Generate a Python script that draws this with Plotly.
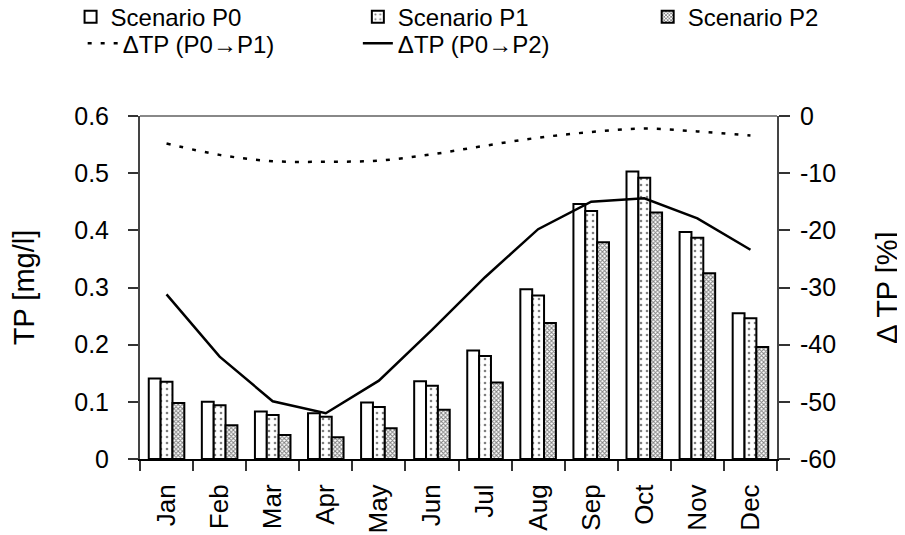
import plotly.graph_objects as go

months = ['Jan', 'Feb', 'Mar', 'Apr', 'May', 'Jun', 'Jul', 'Aug', 'Sep', 'Oct', 'Nov', 'Dec']
tp_p0 = [0.141, 0.100, 0.083, 0.080, 0.099, 0.136, 0.190, 0.297, 0.446, 0.503, 0.397, 0.255]
tp_p1 = [0.135, 0.094, 0.077, 0.074, 0.091, 0.128, 0.180, 0.286, 0.434, 0.492, 0.387, 0.246]
tp_p2 = [0.098, 0.059, 0.042, 0.038, 0.054, 0.086, 0.134, 0.238, 0.379, 0.431, 0.325, 0.196]
dtp_p1 = [-4.8, -6.8, -7.9, -8.0, -7.8, -6.7, -5.2, -3.8, -2.8, -2.2, -2.7, -3.4]
dtp_p2 = [-31.2, -42.1, -49.9, -52.0, -46.3, -37.4, -28.2, -19.8, -15.0, -14.4, -17.9, -23.4]

left_ticks = [0, 0.1, 0.2, 0.3, 0.4, 0.5, 0.6]
left_text = ['0', '0.1', '0.2', '0.3', '0.4', '0.5', '0.6']
right_ticks = [0, -10, -20, -30, -40, -50, -60]
right_text = ['0', '-10', '-20', '-30', '-40', '-50', '-60']

FONT = 'Liberation Sans, Arial, sans-serif'
outline = dict(color='black', width=2)

fig = go.Figure()
fig.add_trace(go.Bar(x=months, y=tp_p0, name='Scenario P0', legend='legend',
                     marker=dict(color='white', line=outline)))
fig.add_trace(go.Bar(x=months, y=tp_p1, name='Scenario P1', legend='legend2',
                     marker=dict(color='white', line=outline,
                                 pattern=dict(shape='.', fgcolor='black', bgcolor='white',
                                              size=6, solidity=0.15, fillmode='overlay'))))
fig.add_trace(go.Bar(x=months, y=tp_p2, name='Scenario P2', legend='legend3',
                     marker=dict(color='white', line=outline,
                                 pattern=dict(shape='x', fgcolor='black', bgcolor='white',
                                              size=3, solidity=0.55, fillmode='overlay'))))
fig.add_trace(go.Scatter(x=months, y=dtp_p1, yaxis='y2', mode='lines', name='ΔTP (P0→P1)',
                         legend='legend4', line=dict(color='black', width=2.5, dash='4px,9px',
                                                     shape='spline', smoothing=1)))
fig.add_trace(go.Scatter(x=months, y=dtp_p2, yaxis='y2', mode='lines', name='ΔTP (P0→P2)',
                         legend='legend5', line=dict(color='black', width=2.5)))

def lg(x, y):
    return dict(x=x, y=y, xanchor='left', yanchor='middle', orientation='h',
                font=dict(family=FONT, size=24, color='black'), bgcolor='rgba(0,0,0,0)',
                borderwidth=0)

fig.update_layout(
    width=897, height=527,
    margin=dict(l=132, r=128, t=108, b=76, autoexpand=False),
    paper_bgcolor='white', plot_bgcolor='white',
    font=dict(family=FONT, size=24, color='black'),
    barmode='group', bargap=0.33, bargroupgap=0,
    showlegend=True,
    legend=lg(-0.109, 1.288),
    legend2=lg(0.342, 1.288),
    legend3=lg(0.797, 1.288),
    legend4=lg(-0.090, 1.211),
    legend5=lg(0.342, 1.211),
    xaxis=dict(type='category', tickson='boundaries', ticks='outside', ticklen=10,
               tickwidth=1.5, tickcolor='#333', showline=True, linecolor='black',
               linewidth=2, tickangle=-90, tickfont=dict(size=26), ticklabelstandoff=13,
               showgrid=False, zeroline=False),
    yaxis=dict(range=[0, 0.6], tickvals=left_ticks, ticktext=left_text, ticks='outside',
               ticklen=10, tickwidth=1.5, tickcolor='#333', showline=True,
               linecolor='#444', linewidth=2, showgrid=False, zeroline=False,
               tickfont=dict(size=25), ticklabelstandoff=14,
               title=dict(text='TP [mg/l]', font=dict(size=29), standoff=34)),
    yaxis2=dict(range=[-60, 0], overlaying='y', side='right', tickvals=right_ticks,
                ticktext=right_text, ticks='outside', ticklen=11, tickwidth=1.5,
                tickcolor='#333', showline=True, linecolor='#444', linewidth=2,
                showgrid=False, zeroline=False, tickfont=dict(size=25),
                ticklabelstandoff=5,
                title=dict(text='Δ TP [%]', font=dict(size=29), standoff=42)),
    shapes=[dict(type='line', xref='paper', yref='paper', x0=0, x1=1, y0=1, y1=1,
                 line=dict(color='#888', width=2))],
)

fig.write_html('out.html')
